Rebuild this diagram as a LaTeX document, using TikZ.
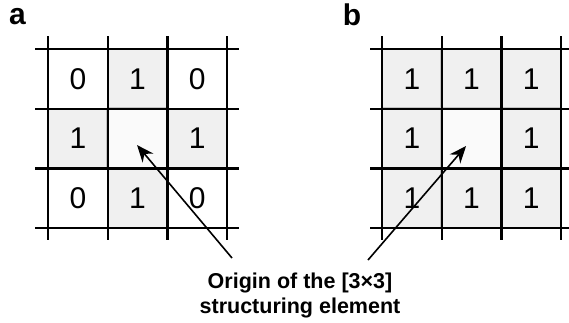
\documentclass[tikz,border=0pt]{standalone}
\usepackage{fontspec}
\setmainfont{Liberation Sans}
\usetikzlibrary{arrows.meta,positioning,calc}
\definecolor{seCell}{HTML}{F0F0F0}
\definecolor{seOrigin}{HTML}{FAFAFA}
\definecolor{seEdge}{HTML}{C4C4C4}
\tikzset{
  se diagram/.style={x=1pt, y=-1pt, line cap=butt},
  se cell/.style={draw=seEdge, fill=seCell, line width=0.8pt,
    minimum size=58pt, inner sep=0pt, font=\fontsize{30}{30}\selectfont},
  se zero/.style={se cell, fill=white, draw=none},
  se origin/.style={se cell, fill=seOrigin, draw=seOrigin},
  se grid/.style={draw=black, line width=2.4pt},
  se arrow/.style={-{Stealth[length=17pt,width=14pt]}, draw=black, line width=1.6pt},
  se panel/.style={font=\bfseries\fontsize{30}{30}\selectfont},
  se caption/.style={font=\bfseries\fontsize{21.5}{25}\selectfont, align=center}
}

\begin{document}
\begin{tikzpicture}[se diagram]
\useasboundingbox (0,0) rectangle (569,322);
% panel a
\node[se zero]   (a11) at (77.85,78.85)   {0};
\node[se cell]   (a12) at (137.55,78.85)  {1};
\node[se zero]   (a13) at (197.25,78.85)  {0};
\node[se cell]   (a21) at (77.85,138.55)  {1};
\node[se origin] (a22) at (137.55,138.55) {};
\node[se cell]   (a23) at (197.25,138.55) {1};
\node[se zero]   (a31) at (77.85,198.25)  {0};
\node[se cell]   (a32) at (137.55,198.25) {1};
\node[se zero]   (a33) at (197.25,198.25) {0};
% panel b
\node[se cell]   (b11) at (411.85,78.85)  {1};
\node[se cell]   (b12) at (471.55,78.85)  {1};
\node[se cell]   (b13) at (531.25,78.85)  {1};
\node[se cell]   (b21) at (411.85,138.55) {1};
\node[se origin] (b22) at (471.55,138.55) {};
\node[se cell]   (b23) at (531.25,138.55) {1};
\node[se cell]   (b31) at (411.85,198.25) {1};
\node[se cell]   (b32) at (471.55,198.25) {1};
\node[se cell]   (b33) at (531.25,198.25) {1};
% grid lines
\foreach \t in {0,1,2,3} {
  \draw[se grid] (48+59.7*\t,36) -- (48+59.7*\t,240);
  \draw[se grid] (35,49+59.7*\t) -- (239,49+59.7*\t);
  \draw[se grid] (382+59.7*\t,36) -- (382+59.7*\t,240);
  \draw[se grid] (370,49+59.7*\t) -- (569,49+59.7*\t);
}
\node[se panel, anchor=base] (labA) at (17.5,24) {a};
\node[se panel, anchor=base] (labB) at (352,25) {b};
% caption and arrows
\node[se caption, anchor=base] (origin) at (300,313) {Origin of the [3×3]\\structuring element};
\coordinate (tailA) at (232,258);
\coordinate (tailB) at (368,260);
\draw[se arrow] (tailA) -- ($(a22)+(-0.5,6.5)$);
\draw[se arrow] (tailB) -- ($(b22)+(-5.5,7.5)$);
\end{tikzpicture}
\end{document}
